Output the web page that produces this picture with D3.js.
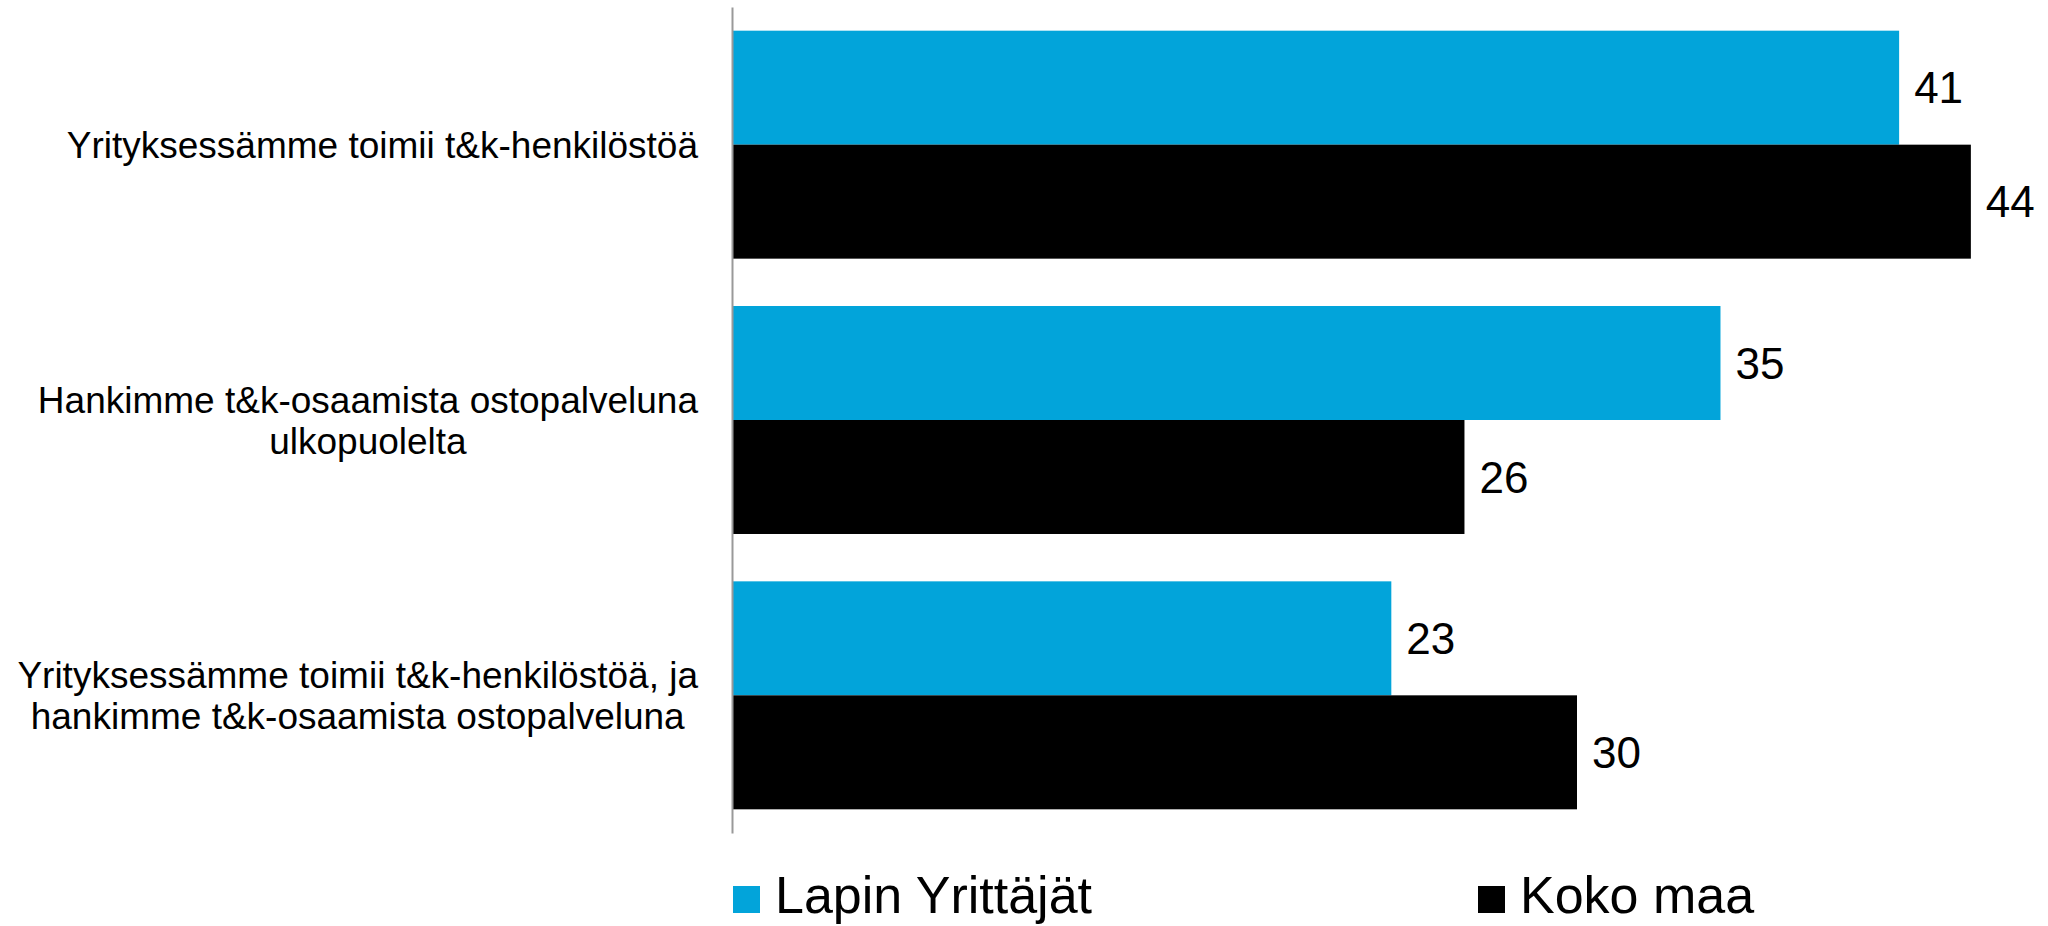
<!DOCTYPE html>
<html>
<head>
<meta charset="utf-8">
<script src="https://cdn.jsdelivr.net/npm/d3@7/dist/d3.min.js"></script>
<style>
  html, body { margin: 0; padding: 0; background: #fff; }
  svg { display: block; }
  text { font-family: "Liberation Sans", Arial, sans-serif; fill: #000; }
</style>
</head>
<body>
<svg id="chart" width="2048" height="926"></svg>
<script>
// ---- data ----
const categories = [
  "Yrityksessämme toimii t&k-henkilöstöä",
  "Hankimme t&k-osaamista ostopalveluna ulkopuolelta",
  "Yrityksessämme toimii t&k-henkilöstöä, ja hankimme t&k-osaamista ostopalveluna"
];
const categoryLines = [
  ["Yrityksessämme toimii t&k-henkilöstöä"],
  ["Hankimme t&k-osaamista ostopalveluna", "ulkopuolelta"],
  ["Yrityksessämme toimii t&k-henkilöstöä, ja", "hankimme t&k-osaamista ostopalveluna"]
];
const seriesNames = ["Lapin Yrittäjät", "Koko maa"];
const lapinValues = [41.45, 35.1, 23.4];
const kokoValues = [44, 26, 30];
const seriesColors = ["#02A4DA", "#000000"];

// ---- layout ----
const svg = d3.select("#chart");
const plotLeft = 733, plotRight = 1999, plotTop = 7, plotBottom = 833;

const x = d3.scaleLinear().domain([0, 45]).range([plotLeft, plotRight]);
const y0 = d3.scaleBand()
  .domain(categories.map((d, i) => i))
  .range([plotTop, plotBottom])
  .paddingInner(0.172)
  .paddingOuter(0.086);
const y1 = d3.scaleBand().domain([0, 1]).range([0, y0.bandwidth()]);

const series = [lapinValues, kokoValues];
const fmt = d3.format(".0f");
const numFont = 44;

// bars
series.forEach((vals, s) => {
  svg.append("g").selectAll("rect")
    .data(vals)
    .join("rect")
    .attr("x", x(0))
    .attr("y", (d, i) => y0(i) + y1(s))
    .attr("width", d => x(d) - x(0))
    .attr("height", y1.bandwidth())
    .attr("fill", seriesColors[s]);

  svg.append("g").selectAll("text")
    .data(vals)
    .join("text")
    .attr("x", d => x(d) + 15)
    .attr("y", (d, i) => y0(i) + y1(s) + y1.bandwidth() / 2 + 0.358 * numFont)
    .attr("font-size", numFont)
    .text(d => fmt(d));
});

// axis line
const axis = svg.append("g")
  .attr("transform", `translate(${plotLeft - 1},0)`)
  .call(d3.axisLeft(y0).tickSize(0).tickFormat(""));
axis.select(".domain").attr("stroke", "#999").attr("stroke-width", 2);

// category labels
const catFont = 37, lineH = 41, labelRight = 698;
categoryLines.forEach((lines, i) => {
  const cy = y0(i) + y0.bandwidth() / 2;
  const t = svg.append("text").attr("font-size", catFont);
  const n = lines.length;
  const spans = lines.map((ln, k) =>
    t.append("tspan")
      .attr("y", cy + (k - (n - 1) / 2) * lineH + 0.358 * catFont)
      .text(ln)
  );
  const widths = spans.map(sp => sp.node().getComputedTextLength());
  const maxW = d3.max(widths);
  if (n === 1) {
    t.attr("text-anchor", "end");
    spans.forEach(sp => sp.attr("x", labelRight));
  } else {
    t.attr("text-anchor", "middle");
    spans.forEach(sp => sp.attr("x", labelRight - maxW / 2));
  }
});

// legend
const legendX = [733, 1478];
const legend = svg.append("g");
seriesNames.forEach((name, s) => {
  legend.append("rect")
    .attr("x", legendX[s])
    .attr("y", 886)
    .attr("width", 27)
    .attr("height", 27)
    .attr("fill", seriesColors[s]);
  legend.append("text")
    .attr("x", legendX[s] + 42)
    .attr("y", 913)
    .attr("font-size", 52)
    .text(name);
});
</script>
</body>
</html>
